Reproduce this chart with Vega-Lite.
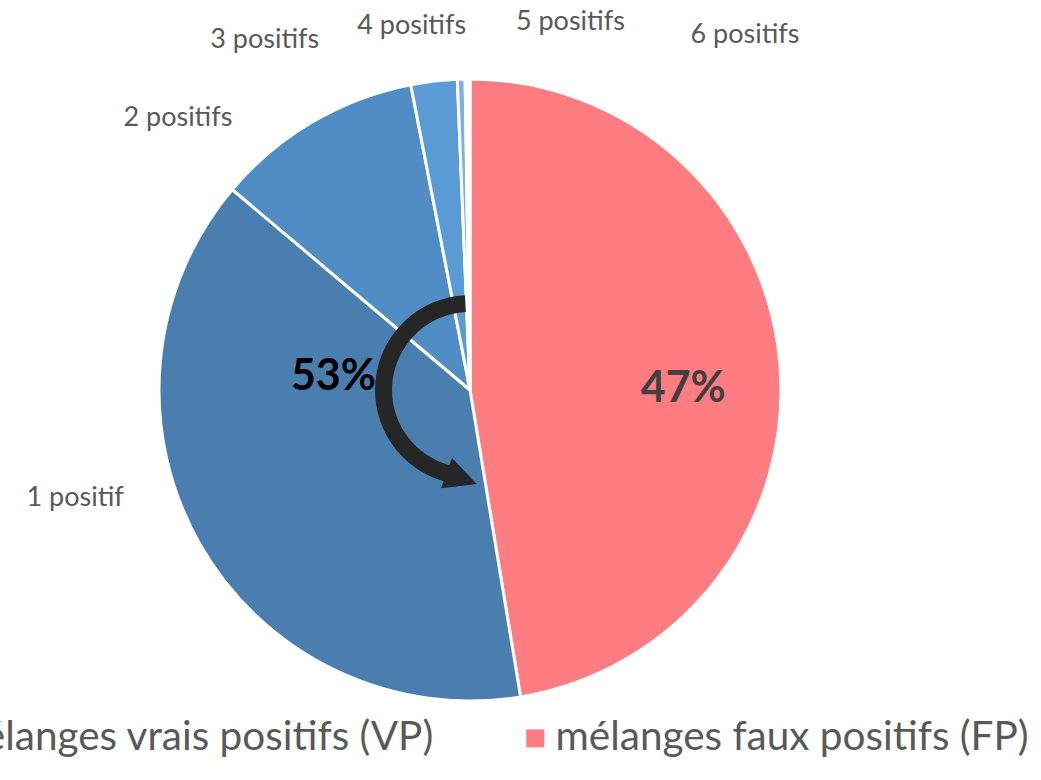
{
  "$schema": "https://vega.github.io/schema/vega-lite/v6.json",
  "width": 940,
  "height": 780,
  "autosize": "none",
  "padding": {"left": 0, "top": 0, "right": 101, "bottom": 0},
  "background": "white",
  "view": {"stroke": null},
  "config": {"font": "Lato"},
  "datasets": {
    "slices": [
      {"category": "mélanges faux positifs (FP)", "group": "FP", "order": 0, "share": 0.474},
      {"category": "1 positif", "group": "VP", "order": 1, "share": 0.3875},
      {"category": "2 positifs", "group": "VP", "order": 2, "share": 0.108},
      {"category": "3 positifs", "group": "VP", "order": 3, "share": 0.024},
      {"category": "4 positifs", "group": "VP", "order": 4, "share": 0.004},
      {"category": "5 positifs", "group": "VP", "order": 5, "share": 0.0015},
      {"category": "6 positifs", "group": "VP", "order": 6, "share": 0.001}
    ],
    "arrow": [{"annotation": "flèche"}]
  },
  "layer": [
    {
      "data": {"name": "slices"},
      "mark": {"type": "arc", "outerRadius": 311, "stroke": "white", "strokeWidth": 3},
      "encoding": {
        "theta": {"field": "share", "type": "quantitative", "stack": true},
        "order": {"field": "order", "type": "quantitative"},
        "color": {
          "field": "category",
          "type": "nominal",
          "scale": {
            "domain": ["mélanges vrais positifs (VP)", "mélanges faux positifs (FP)", "1 positif", "2 positifs", "3 positifs", "4 positifs", "5 positifs", "6 positifs"],
            "range": ["#4A7EAE", "#FF7C80", "#4A7EAE", "#4F8DC4", "#5B9BD5", "#7FAFE0", "#9DC3E6", "#BDD7EE"]
          },
          "legend": {
            "values": ["mélanges vrais positifs (VP)", "mélanges faux positifs (FP)"],
            "orient": "none",
            "legendX": -90,
            "legendY": 718,
            "direction": "horizontal",
            "columns": 2,
            "title": null,
            "labelFont": "Lato",
            "labelFontSize": 40.5,
            "labelColor": "#595959",
            "labelLimit": 1000,
            "labelOffset": 0,
            "symbolType": "square",
            "symbolSize": 324,
            "symbolStrokeWidth": 0,
            "symbolOpacity": 1,
            "columnPadding": 80
          }
        }
      }
    },
    {
      "data": {"name": "slices"},
      "transform": [{"aggregate": [{"op": "sum", "field": "share", "as": "total"}], "groupby": ["group"]}],
      "mark": {"type": "text", "radius": 137, "dy": -24, "fontSize": 43, "fontWeight": "bold", "color": "#000000"},
      "encoding": {
        "theta": {"field": "total", "type": "quantitative", "stack": true},
        "order": {"field": "group", "type": "ordinal"},
        "detail": {"field": "group", "type": "nominal"},
        "text": {"condition": {"test": "datum.group === 'VP'", "field": "total", "type": "quantitative", "format": ".0%"}, "value": ""}
      }
    },
    {
      "data": {"name": "slices"},
      "transform": [{"aggregate": [{"op": "sum", "field": "share", "as": "total"}], "groupby": ["group"]}],
      "mark": {"type": "text", "radius": 214, "dy": 16, "fontSize": 43, "fontWeight": "bold", "color": "#404040"},
      "encoding": {
        "theta": {"field": "total", "type": "quantitative", "stack": true},
        "order": {"field": "group", "type": "ordinal"},
        "detail": {"field": "group", "type": "nominal"},
        "text": {"condition": {"test": "datum.group === 'FP'", "field": "total", "type": "quantitative", "format": ".0%"}, "value": ""}
      }
    },
    {
      "data": {"name": "slices"},
      "mark": {"type": "text", "radius": 330, "dx": -108, "dy": -55, "fontSize": 27, "color": "#595959"},
      "encoding": {
        "theta": {"field": "share", "type": "quantitative", "stack": true},
        "order": {"field": "order", "type": "quantitative"},
        "detail": {"field": "category", "type": "nominal"},
        "text": {"condition": {"test": "datum.category === '1 positif'", "field": "category", "type": "nominal"}, "value": ""}
      }
    },
    {
      "data": {"name": "slices"},
      "mark": {"type": "text", "radius": 330, "dx": -125, "dy": 13, "fontSize": 27, "color": "#595959"},
      "encoding": {
        "theta": {"field": "share", "type": "quantitative", "stack": true},
        "order": {"field": "order", "type": "quantitative"},
        "detail": {"field": "category", "type": "nominal"},
        "text": {"condition": {"test": "datum.category === '2 positifs'", "field": "category", "type": "nominal"}, "value": ""}
      }
    },
    {
      "data": {"name": "slices"},
      "mark": {"type": "text", "radius": 330, "dx": -167, "dy": -22, "fontSize": 27, "color": "#595959"},
      "encoding": {
        "theta": {"field": "share", "type": "quantitative", "stack": true},
        "order": {"field": "order", "type": "quantitative"},
        "detail": {"field": "category", "type": "nominal"},
        "text": {"condition": {"test": "datum.category === '3 positifs'", "field": "category", "type": "nominal"}, "value": ""}
      }
    },
    {
      "data": {"name": "slices"},
      "mark": {"type": "text", "radius": 330, "dx": -49, "dy": -34, "fontSize": 27, "color": "#595959"},
      "encoding": {
        "theta": {"field": "share", "type": "quantitative", "stack": true},
        "order": {"field": "order", "type": "quantitative"},
        "detail": {"field": "category", "type": "nominal"},
        "text": {"condition": {"test": "datum.category === '4 positifs'", "field": "category", "type": "nominal"}, "value": ""}
      }
    },
    {
      "data": {"name": "slices"},
      "mark": {"type": "text", "radius": 330, "dx": 104, "dy": -38, "fontSize": 27, "color": "#595959"},
      "encoding": {
        "theta": {"field": "share", "type": "quantitative", "stack": true},
        "order": {"field": "order", "type": "quantitative"},
        "detail": {"field": "category", "type": "nominal"},
        "text": {"condition": {"test": "datum.category === '5 positifs'", "field": "category", "type": "nominal"}, "value": ""}
      }
    },
    {
      "data": {"name": "slices"},
      "mark": {"type": "text", "radius": 330, "dx": 276, "dy": -25, "fontSize": 27, "color": "#595959"},
      "encoding": {
        "theta": {"field": "share", "type": "quantitative", "stack": true},
        "order": {"field": "order", "type": "quantitative"},
        "detail": {"field": "category", "type": "nominal"},
        "text": {"condition": {"test": "datum.category === '6 positifs'", "field": "category", "type": "nominal"}, "value": ""}
      }
    },
    {
      "data": {"name": "arrow"},
      "mark": {"type": "arc", "theta": 3.40, "theta2": 6.23, "innerRadius": 78, "outerRadius": 95, "fill": "#262626"},
      "encoding": {}
    },
    {
      "data": {"name": "arrow"},
      "mark": {"type": "text", "text": "▶", "theta": 3.23, "radius": 87, "angle": 20, "fontSize": 42, "font": "DejaVu Sans", "color": "#262626", "align": "center", "baseline": "middle"},
      "encoding": {}
    }
  ]
}
